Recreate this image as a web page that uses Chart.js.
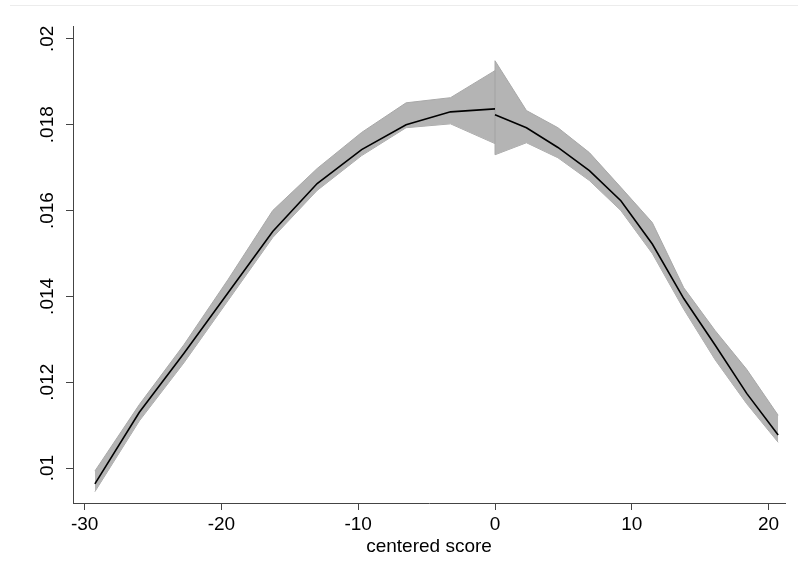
<!DOCTYPE html>
<html>
<head>
<meta charset="utf-8">
<script src="https://cdn.jsdelivr.net/npm/chart.js@4"></script>
<style>
  html, body { margin: 0; padding: 0; background: #fff; }
  #chart { display: block; }
</style>
</head>
<body>
<canvas id="chart" width="798" height="580"></canvas>
<script>
// left of the cutoff
const xLeft   = [-29.25, -26, -22.75, -19.5, -16.25, -13, -9.75, -6.5, -3.25, 0];
const fitLeft = [0.00963, 0.01130, 0.01267, 0.01409, 0.01551, 0.01663, 0.01742, 0.01800, 0.01830, 0.01837];
const hiLeft  = [0.00993, 0.01148, 0.01287, 0.01440, 0.01600, 0.01698, 0.01782, 0.01851, 0.01863, 0.01926];
const loLeft  = [0.00945, 0.01110, 0.01245, 0.01391, 0.01537, 0.01647, 0.01728, 0.01793, 0.01802, 0.01756];

// right of the cutoff
const xRight   = [0, 2.3, 4.6, 6.9, 9.2, 11.5, 13.8, 16.1, 18.4, 20.7];
const fitRight = [0.01823, 0.01793, 0.01747, 0.01693, 0.01623, 0.01522, 0.01395, 0.01286, 0.01174, 0.01077];
const hiRight  = [0.01949, 0.01833, 0.01793, 0.01735, 0.01654, 0.01572, 0.01420, 0.01320, 0.01230, 0.01123];
const loRight  = [0.01730, 0.01758, 0.01723, 0.01670, 0.01600, 0.01500, 0.01370, 0.01252, 0.01150, 0.01060];

const xTicks = [-30, -20, -10, 0, 10, 20];
const yTicks = [0.01, 0.012, 0.014, 0.016, 0.018, 0.02];

const pts = (xs, ys) => xs.map((x, i) => ({ x: x, y: ys[i] }));

const bandFill = '#b4b4b4';
const bandEdge = '#a8a8a8';
const axisColor = '#444';
const font = "'Liberation Sans', Arial, sans-serif";

const lineSet = (data) => ({
  data: data, borderColor: '#000', borderWidth: 1.6,
  pointRadius: 0, fill: false, tension: 0
});
const bandSet = (data, fill) => ({
  data: data, borderColor: bandEdge, borderWidth: 1,
  backgroundColor: bandFill, pointRadius: 0, fill: fill, tension: 0
});

// thin rule across the top of the graph region
const topRule = {
  id: 'topRule',
  beforeDraw(chart) {
    const c = chart.ctx;
    c.save();
    c.strokeStyle = '#ececec';
    c.lineWidth = 1;
    c.beginPath();
    c.moveTo(10, 5.5);
    c.lineTo(798, 5.5);
    c.stroke();
    c.restore();
  }
};

new Chart(document.getElementById('chart').getContext('2d'), {
  type: 'line',
  data: {
    datasets: [
      lineSet(pts(xLeft, fitLeft)),
      lineSet(pts(xRight, fitRight)),
      bandSet(pts([0, 0], [loLeft[9], hiLeft[9]]), false),
      bandSet(pts([0, 0], [loRight[0], hiRight[0]]), false),
      bandSet(pts(xLeft, hiLeft), '+1'),
      bandSet(pts(xLeft, loLeft), false),
      bandSet(pts(xRight, hiRight), '+1'),
      bandSet(pts(xRight, loRight), false)
    ]
  },
  options: {
    responsive: false,
    animation: false,
    layout: { padding: { left: 0, right: 13, top: 26, bottom: 0 } },
    plugins: { legend: { display: false }, tooltip: { enabled: false } },
    scales: {
      x: {
        type: 'linear',
        min: -30.85,
        max: 21.2,
        afterFit(s) { s.height = 77; },
        afterBuildTicks(s) { s.ticks = xTicks.map(v => ({ value: v })); },
        border: { display: true, color: axisColor, width: 1 },
        grid: { drawOnChartArea: false, drawTicks: true, tickLength: 7, color: axisColor },
        ticks: {
          padding: 3, color: '#000', maxRotation: 0,
          font: { family: font, size: 19 },
          callback: v => String(v)
        },
        title: {
          display: true, text: 'centered score', color: '#000',
          font: { family: font, size: 19 }, padding: { top: 0, bottom: 22 }
        }
      },
      y: {
        type: 'linear',
        min: 0.009186,
        max: 0.0203,
        afterFit(s) { s.width = 73; },
        afterBuildTicks(s) { s.ticks = yTicks.map(v => ({ value: v })); },
        border: { display: true, color: axisColor, width: 1 },
        grid: { drawOnChartArea: false, drawTicks: true, tickLength: 7, color: axisColor },
        ticks: {
          padding: 0, color: '#000', minRotation: 90, maxRotation: 90,
          crossAlign: 'center',
          font: { family: font, size: 19 },
          callback: v => String(+v.toFixed(4)).replace(/^0/, '')
        }
      }
    }
  },
  plugins: [topRule]
});
</script>
</body>
</html>
